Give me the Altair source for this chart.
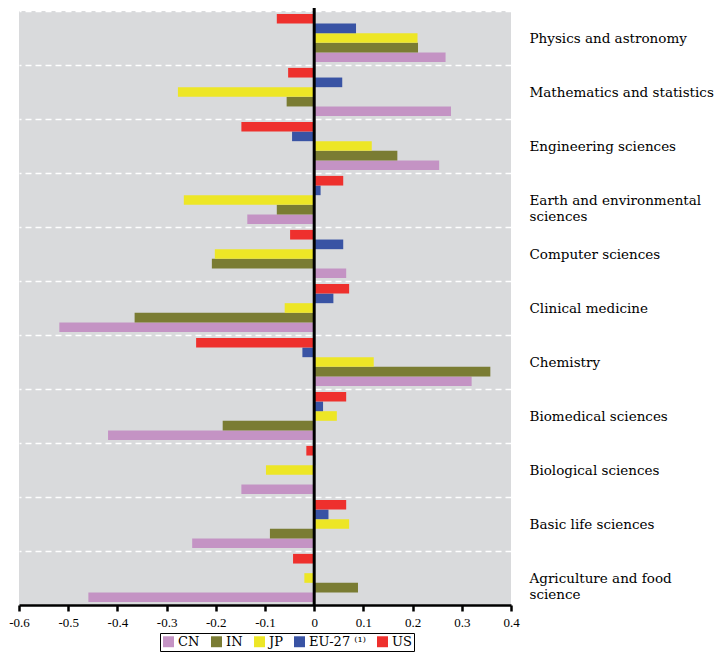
import altair as alt
import pandas as pd

categories = ["Physics and astronomy", "Mathematics and statistics", "Engineering sciences",
              "Earth and environmental sciences", "Computer sciences", "Clinical medicine",
              "Chemistry", "Biomedical sciences", "Biological sciences", "Basic life sciences",
              "Agriculture and food science"]

series = ["CN", "IN", "JP", "EU-27 \u207d\u00b9\u207e", "US"]
colors = ["#c493c4", "#7a7c33", "#ede626", "#3953a4", "#ee302d"]

CN = [0.267, 0.278, 0.254, -0.136, 0.065, -0.518, 0.320, -0.419, -0.148, -0.248, -0.459]
IN = [0.211, -0.056, 0.169, -0.076, -0.208, -0.365, 0.358, -0.186, 0.0, -0.090, 0.089]
JP = [0.210, -0.277, 0.117, -0.265, -0.202, -0.060, 0.121, 0.046, -0.098, 0.071, -0.020]
EU = [0.085, 0.057, -0.045, 0.013, 0.059, 0.039, -0.024, 0.018, 0.002, 0.029, -0.002]
US = [-0.076, -0.053, -0.148, 0.059, -0.049, 0.071, -0.240, 0.065, -0.016, 0.065, -0.043]

x_ticks = [-0.6, -0.5, -0.4, -0.3, -0.2, -0.1, 0, 0.1, 0.2, 0.3, 0.4]

rows = []
for s, vals in zip(series, [CN, IN, JP, EU, US]):
    for c, v in zip(categories, vals):
        rows.append({"category": c, "series": s, "value": v})
df = pd.DataFrame(rows)

label_expr = (
    "datum.label == 'Earth and environmental sciences' ? ['Earth and environmental', 'sciences'] : "
    "datum.label == 'Agriculture and food science' ? ['\u00a0Agriculture and food', '\u00a0science'] : "
    "datum.label == 'Biological sciences' ? '\u00a0Biological sciences' : datum.label"
)

bars = alt.Chart(df).mark_bar().encode(
    x=alt.X("value:Q",
            scale=alt.Scale(domain=[-0.6, 0.4], nice=False, zero=False),
            axis=alt.Axis(values=x_ticks, title=None, grid=False, labelFlush=False,
                          labelExpr="datum.value == 0 ? '0' : (datum.value < 0 ? '-' : '') + format(abs(datum.value), '.1f')",
                          labelFont="Liberation Serif", labelFontSize=13, labelColor="black",
                          domainColor="black", domainWidth=2.5, tickColor="black", tickWidth=2.5,
                          tickSize=6, labelPadding=5)),
    y=alt.Y("category:N", sort=categories,
            scale=alt.Scale(paddingInner=0, paddingOuter=0),
            axis=alt.Axis(orient="right", title=None, domain=False, ticks=False,
                          grid=True, gridColor="white", gridDash=[6, 4], gridWidth=1.5,
                          tickBand="extent", labelExpr=label_expr,
                          labelFont="DejaVu Serif", labelFontSize=13.5, labelColor="black",
                          labelAlign="left", labelPadding=18, labelLineHeight=16,
                          labelLimit=300)),
    yOffset=alt.YOffset("series:N", sort=["US", "EU-27 \u207d\u00b9\u207e", "JP", "IN", "CN"],
                        scale=alt.Scale(paddingOuter=0.3, paddingInner=0)),
    color=alt.Color("series:N",
                    scale=alt.Scale(domain=series, range=colors),
                    legend=alt.Legend(orient="none", legendX=141, legendY=622,
                                      direction="horizontal", title=None,
                                      symbolType="square", symbolSize=120,
                                      symbolStrokeWidth=0,
                                      labelFont="DejaVu Serif", labelFontSize=13,
                                      labelColor="black", strokeColor="black",
                                      padding=2, columnPadding=10, symbolOffset=0,
                                      labelOffset=3)),
)

zero = alt.Chart(pd.DataFrame({"x": [0]})).mark_rule(color="black", strokeWidth=3).encode(
    x="x:Q", y=alt.value(-3), y2=alt.value(594))

chart = alt.layer(bars, zero).properties(
    width=492, height=594,
    background="white",
    autosize=alt.AutoSizeParams(type="none"),
    padding={"left": 11, "top": 3, "right": 207, "bottom": 48},
).configure_view(fill="#d9dadc", stroke=None)

chart.save("out.html", embed_options={"renderer": "svg", "actions": False})
